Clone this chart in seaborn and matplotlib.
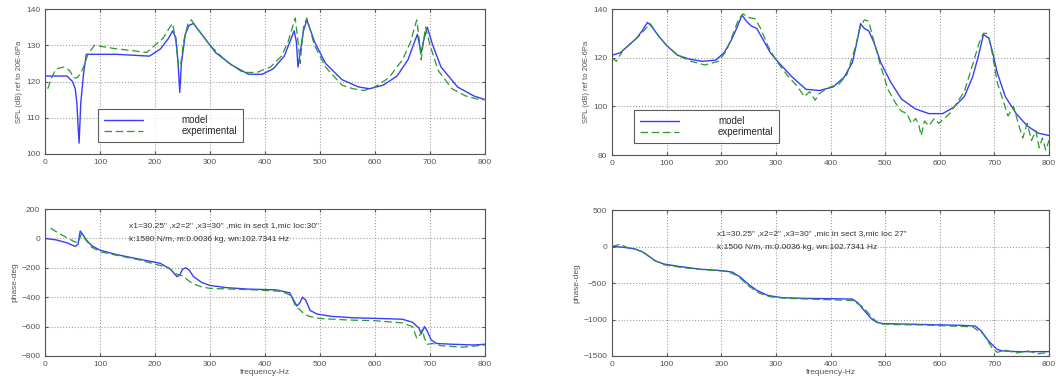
import pandas as pd
import seaborn as sns
from matplotlib import pyplot as plt

# ---- SPL, mic in sect 1 (top left) ----
f_spl1_model = [0, 20, 40, 50, 55, 58, 60, 62, 65, 70, 75, 90, 130, 190, 210, 225, 232, 238, 242, 245, 248, 255, 262, 270, 285, 310, 340, 370, 395, 415, 435, 448, 453, 457, 460, 464, 470, 476, 490, 510, 540, 570, 590, 615, 640, 660, 672, 677, 681, 684, 688, 695, 705, 720, 750, 780, 800]
spl1_model = [121.5, 121.5, 121.5, 120, 118, 114, 108, 103, 114, 122, 127.5, 127.5, 127.5, 127, 129, 132, 134, 132, 125, 117, 125, 133, 135.5, 136, 133, 128, 124.5, 122, 122, 123.5, 127, 132, 134, 131, 124, 128, 134, 137, 131, 125, 120.5, 118.5, 118, 119, 121.5, 126, 131, 133, 130, 128, 131, 135, 130, 124, 118.5, 116, 115]

f_spl1_exp = [5, 12, 20, 35, 45, 52, 58, 64, 70, 78, 90, 110, 130, 160, 185, 200, 215, 225, 232, 238, 243, 247, 252, 260, 266, 275, 300, 330, 360, 385, 410, 430, 442, 450, 455, 460, 464, 470, 476, 490, 510, 540, 560, 580, 600, 625, 650, 665, 672, 676, 680, 684, 688, 692, 700, 715, 740, 765, 790, 800]
spl1_exp = [118, 121, 123.5, 124, 123, 121, 121, 122, 124, 127.5, 130, 129.5, 129, 128.5, 128, 130, 132, 134.5, 136, 131, 124, 125, 131, 136, 137, 135, 130, 125.5, 122.5, 122.5, 124, 127, 131, 135, 137.5, 131, 125, 135, 137.5, 130, 124, 119, 118, 117.5, 118.5, 121, 126, 131, 135, 137, 132, 126, 131, 135, 130, 123, 118, 116, 115, 115]

# ---- SPL, mic in sect 3 (top right) ----
f_spl3_model = [0, 15, 30, 45, 55, 65, 72, 85, 100, 120, 140, 165, 190, 205, 218, 228, 238, 246, 255, 265, 275, 290, 305, 330, 355, 380, 405, 425, 440, 448, 455, 462, 470, 480, 492, 510, 530, 555, 580, 605, 625, 645, 660, 670, 680, 690, 697, 705, 720, 740, 760, 780, 800]
spl3_model = [121, 122, 125, 128, 131, 134.5, 133, 129, 125, 121, 119.5, 118.5, 119, 122, 127, 132, 137.5, 135, 133, 132, 128, 122, 118, 112, 107, 106.5, 108, 112, 118, 126, 134, 132, 131, 126, 118, 110, 103, 99, 97, 97, 99.5, 104, 112, 120, 129.5, 128, 122, 114, 104, 97, 92, 89, 88]

f_spl3_exp = [0, 8, 20, 35, 50, 62, 70, 85, 100, 120, 145, 170, 195, 210, 222, 232, 240, 250, 262, 272, 285, 300, 320, 340, 352, 362, 372, 378, 388, 400, 415, 430, 445, 455, 462, 470, 478, 490, 505, 520, 530, 540, 548, 556, 562, 566, 572, 580, 590, 598, 608, 618, 630, 645, 660, 672, 680, 686, 690, 696, 705, 715, 725, 735, 745, 752, 760, 768, 776, 782, 788, 794, 800]
spl3_exp = [120, 118.5, 123, 126, 129, 132, 134, 129, 125, 121, 118.5, 117, 118.5, 123, 130, 136, 138, 136.5, 136, 132, 125, 119, 113, 108, 104, 106, 102.5, 105, 106.5, 108, 109, 113, 124, 133, 135.5, 135, 128, 118, 107, 101, 98, 97, 93, 95, 92, 88, 94, 92, 95, 93, 95, 97, 101, 106, 117, 126, 130, 130, 128, 122, 110, 103, 96, 100, 92, 87, 93, 86, 90, 83, 87, 82, 86]

# ---- phase, sect 1 (bottom left) ----
f_ph1_model = [0, 20, 40, 55, 60, 64, 68, 75, 85, 100, 130, 170, 210, 228, 240, 245, 250, 256, 262, 270, 285, 300, 330, 370, 420, 445, 452, 458, 463, 468, 474, 482, 495, 520, 560, 610, 650, 668, 680, 684, 690, 695, 702, 712, 740, 780, 800]
ph1_model = [0, -10, -30, -55, -40, 50, 30, -10, -50, -80, -110, -140, -170, -210, -260, -250, -210, -200, -215, -260, -300, -320, -335, -345, -350, -370, -420, -460, -440, -400, -420, -490, -515, -530, -540, -545, -550, -570, -610, -650, -600, -630, -690, -715, -720, -725, -720]

f_ph1_exp = [10, 25, 40, 52, 60, 66, 72, 85, 100, 130, 170, 205, 225, 238, 250, 262, 270, 285, 300, 340, 380, 430, 448, 456, 462, 470, 480, 500, 550, 600, 650, 668, 676, 680, 686, 690, 695, 705, 720, 760, 800]
ph1_exp = [70, 35, 5, -20, -30, 30, 0, -60, -90, -115, -145, -180, -200, -240, -255, -290, -310, -330, -340, -345, -350, -360, -390, -470, -480, -510, -530, -545, -555, -560, -575, -600, -680, -670, -620, -680, -720, -715, -730, -740, -725]

# ---- phase, sect 3 (bottom right) ----
f_ph3_model = [0, 20, 40, 55, 65, 80, 95, 120, 160, 200, 220, 235, 250, 265, 285, 310, 350, 400, 440, 450, 462, 475, 485, 495, 520, 580, 640, 665, 675, 690, 705, 715, 740, 780, 800]
ph3_model = [0, -10, -30, -70, -120, -200, -240, -270, -310, -330, -350, -420, -520, -600, -670, -700, -710, -715, -720, -770, -880, -990, -1040, -1055, -1060, -1070, -1080, -1090, -1150, -1300, -1410, -1430, -1440, -1440, -1440]

f_ph3_exp = [0, 15, 30, 45, 60, 75, 95, 130, 170, 210, 230, 250, 270, 290, 320, 360, 400, 440, 460, 478, 490, 520, 570, 620, 660, 680, 695, 705, 720, 740, 760, 780, 800]
ph3_exp = [0, 30, -20, -40, -90, -180, -250, -290, -320, -340, -400, -540, -640, -690, -710, -720, -730, -740, -830, -990, -1060, -1070, -1075, -1090, -1100, -1200, -1380, -1450, -1420, -1460, -1430, -1470, -1450]

note_sect1 = ['x1=30.25" ,x2=2" ,x3=30" ,mic in sect 1,mic loc:30"',
              'k:1580 N/m, m:0.0036 kg, wn:102.7341 Hz']
note_sect3 = ['x1=30.25" ,x2=2" ,x3=30" ,mic in sect 3,mic loc 27"',
              'k:1500 N/m, m:0.0036 kg, wn:102.7341 Hz']

sns.set_style("ticks")
plt.rcParams['font.family'] = ['Liberation Sans', 'DejaVu Sans']

fig = plt.figure(figsize=(10.56, 3.89), dpi=100)
W, H = 1056, 389
# axes boxes in pixels: left, top, right, bottom
boxes = [(45, 9, 485, 154), (612, 9, 1049, 155), (45, 209, 485, 356), (612, 210, 1049, 356)]
axes = [fig.add_axes([l / W, 1 - b / H, (r - l) / W, (b - t) / H]) for l, t, r, b in boxes]

blue = '#3b3bff'
green = '#2a9a2a'
grey = '#555555'


def draw(ax, fm, ym, fe, ye):
    sns.lineplot(x=fm, y=ym, ax=ax, color=blue, lw=1.0, label='model', sort=False)
    sns.lineplot(x=fe, y=ye, ax=ax, color=green, lw=0.9, label='experimental', sort=False,
                 linestyle=(0, (6, 3)))
    ax.set_xlim(0, 800)
    ax.set_xticks(range(0, 801, 100))
    ax.grid(True, color='#a0a0a0', linestyle=':', lw=0.8)
    ax.tick_params(labelsize=6, length=2, direction='in', top=True, right=True, colors=grey)
    for s in ax.spines.values():
        s.set_color(grey)
        s.set_linewidth(0.8)


draw(axes[0], f_spl1_model, spl1_model, f_spl1_exp, spl1_exp)
axes[0].set_ylim(100, 140)
axes[0].set_yticks(range(100, 141, 10))

draw(axes[1], f_spl3_model, spl3_model, f_spl3_exp, spl3_exp)
axes[1].set_ylim(80, 140)
axes[1].set_yticks(range(80, 141, 20))

draw(axes[2], f_ph1_model, ph1_model, f_ph1_exp, ph1_exp)
axes[2].set_ylim(-800, 200)
axes[2].set_yticks(range(-800, 201, 200))

draw(axes[3], f_ph3_model, ph3_model, f_ph3_exp, ph3_exp)
axes[3].set_ylim(-1500, 500)
axes[3].set_yticks(range(-1500, 501, 500))

for ax, anchor in zip(axes[:2], [(0.11, 0.05), (0.04, 0.05)]):
    ax.set_ylabel('SPL (dB) ref to 20E-6Pa', fontsize=5.5, color=grey, labelpad=2)
    leg = ax.legend(loc='lower left', bbox_to_anchor=anchor, fontsize=7, frameon=True,
                    fancybox=False, borderpad=0.6, handlelength=4, handletextpad=4,
                    labelspacing=0.1)
    leg.get_frame().set_edgecolor('#333333')
    leg.get_frame().set_linewidth(0.8)

for ax in axes[2:]:
    ax.set_ylabel('phase-deg', fontsize=6, color=grey, labelpad=2)
    ax.set_xlabel('frequency-Hz', fontsize=6, color=grey, labelpad=1)
    ax.get_legend().remove()

axes[2].text(0.19, 0.89, note_sect1[0], transform=axes[2].transAxes, fontsize=6, va='center', color='#333333')
axes[2].text(0.19, 0.79, note_sect1[1], transform=axes[2].transAxes, fontsize=6, va='center', color='#333333')
axes[3].text(0.24, 0.84, note_sect3[0], transform=axes[3].transAxes, fontsize=6, va='center', color='#333333')
axes[3].text(0.24, 0.74, note_sect3[1], transform=axes[3].transAxes, fontsize=6, va='center', color='#333333')

fig.savefig('out.png', dpi=100)
